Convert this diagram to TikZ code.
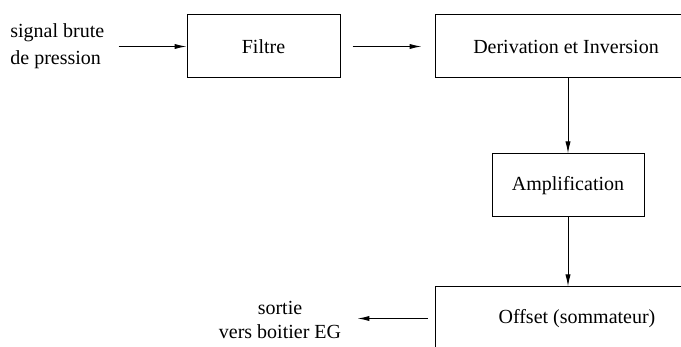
\documentclass[tikz,border=0pt]{standalone}
\usepackage{fontspec}
\setmainfont{Liberation Serif}
\usetikzlibrary{arrows.meta}
\tikzset{
bloc/.style={draw,line width=0.5pt,minimum height=31.5pt,inner sep=0pt},
fleche/.style={line width=0.5pt,-{Latex[length=6pt,width=2.6pt]}}
}
\begin{document}
\begin{tikzpicture}[x=0.5pt,y=-0.5pt,font=\fontsize{10}{12}\selectfont]
\clip (0,0) rectangle (681,347);
\node[anchor=west,align=left,inner sep=0pt,font=\fontsize{10}{13.5}\selectfont] (signal) at (10,46.5) {signal brute\\de pression};
\node[bloc,minimum width=76.5pt] (filtre) at (263.5,46.5) {Filtre};
\node[bloc,minimum width=131pt] (deriv) at (566,46.5) {Derivation et Inversion};
\node[bloc,minimum width=76pt] (ampli) at (568,185.5) {Amplification};
\node[bloc,minimum width=142pt] (offset) at (577,318.5) {Offset (sommateur)};
\node[align=center,inner sep=0pt] (sortie) at (280,320) {sortie\\vers boitier EG};
\draw[fleche,shorten <=7pt] (signal.east) -- (filtre.west);
\draw[fleche,shorten <=6pt,shorten >=6.5pt] (filtre.east) -- (deriv.west);
\draw[fleche] (ampli.north |- deriv.south) -- (ampli.north);
\draw[fleche] (ampli.south) -- (ampli.south |- offset.north);
\draw[fleche,shorten <=3.5pt,shorten >=8pt] (offset.west) -- (sortie.east |- offset.west);
\end{tikzpicture}
\end{document}
